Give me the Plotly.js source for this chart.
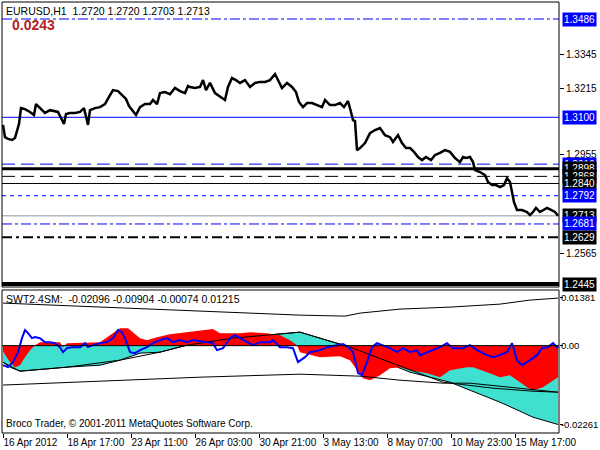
<!DOCTYPE html>
<html><head><meta charset="utf-8">
<script src="https://cdn.plot.ly/plotly-3.0.1.min.js"></script>
<style>html,body{margin:0;padding:0;background:#fff;}#chart{width:600px;height:450px;}</style>
</head><body><div id="chart"></div>
<script>
// ---- price panel data (EURUSD H1, bar index from 16 Apr 2012 00:00) ----
const priceBar = [0,2,5,9,12,14,16,18,22,27,31,33,35,39,42,47,52,55,58,61,63,67,72,77,81,83,85,87,92,97,102,106,110,115,119,123,126,130,133,137,142,147,150,154,157,162,167,172,177,182,185,187,192,197,200,203,207,212,217,222,225,229,233,237,242,247,252,257,262,267,272,275,279,284,289,293,296,300,304,309,315,319,322,327,332,337,341,345,348,350,352,354,357,362,367,372,377,382,387,390,395,399,403,407,411,415,419,423,428,432,437,442,447,452,457,460,463,467,470,472,477,482,485,489,493,497,501,504,507,509,511,514,519,524,527,530,533,537,540,544,548,552,555];
const priceClose = [1.3070,1.3022,1.3015,1.3011,1.3019,1.3042,1.3074,1.3136,1.3132,1.3121,1.3109,1.3152,1.3144,1.3132,1.3117,1.3128,1.3124,1.3121,1.3097,1.3074,1.3113,1.3117,1.3117,1.3121,1.3136,1.3097,1.3070,1.3128,1.3136,1.3140,1.3152,1.3180,1.3207,1.3203,1.3187,1.3172,1.3144,1.3121,1.3109,1.3140,1.3152,1.3152,1.3168,1.3152,1.3195,1.3199,1.3191,1.3215,1.3203,1.3195,1.3223,1.3219,1.3215,1.3219,1.3246,1.3207,1.3235,1.3195,1.3180,1.3168,1.3219,1.3254,1.3246,1.3235,1.3246,1.3219,1.3235,1.3239,1.3239,1.3246,1.3270,1.3246,1.3215,1.3235,1.3219,1.3199,1.3160,1.3140,1.3156,1.3156,1.3148,1.3140,1.3168,1.3148,1.3148,1.3156,1.3140,1.3164,1.3121,1.3089,1.3085,1.2971,1.2979,1.2999,1.3038,1.3050,1.3058,1.3030,1.3022,1.3003,1.3030,1.2999,1.2979,1.2979,1.2964,1.2944,1.2932,1.2944,1.2932,1.2952,1.2960,1.2971,1.2964,1.2940,1.2924,1.2944,1.2940,1.2944,1.2924,1.2893,1.2885,1.2873,1.2846,1.2834,1.2834,1.2826,1.2834,1.2861,1.2846,1.2803,1.2767,1.2736,1.2736,1.2728,1.2716,1.2728,1.2744,1.2728,1.2736,1.2744,1.2736,1.2728,1.2713];

const levelValues = [1.3486,1.3100,1.2916,1.2898,1.2868,1.2840,1.2792,1.2713,1.2681,1.2629,1.2445];
const levelLabels = ['1.3486','1.3100','1.2916','1.2898','1.2868','1.2840','1.2792','1.2713','1.2681','1.2629','1.2445'];
const priceTicks = [1.3345,1.3215,1.2955,1.2565];
const priceTickText = ['1.3345','1.3215','1.2955','1.2565'];

// ---- indicator panel data (SWT2.4SM) ----
const swtBar = [0,5,10,15,19,22,25,29,32,37,42,47,52,57,60,64,69,77,82,85,90,97,104,110,115,119,122,127,132,137,144,150,157,164,170,177,184,190,197,210,214,220,227,232,237,244,250,257,267,270,277,284,290,295,302,307,317,324,334,340,345,350,355,359,364,369,374,380,387,394,400,407,414,417,424,430,437,444,450,460,467,474,484,490,497,504,509,514,519,527,534,539,545,550,555];
const swtVal = [-0.00560,-0.00617,-0.00474,-0.00187,0.00215,0.00445,0.00359,0.00215,0.00244,0.00215,0.00100,0.00100,0.00072,-0.00043,-0.00187,-0.00072,-0.00043,-0.00043,0.00072,-0.00043,0.00014,0.00072,0.00100,0.00215,0.00445,0.00387,0.00215,-0.00187,-0.00215,-0.00129,-0.00043,0.00072,0.00158,0.00215,0.00100,0.00158,0.00100,0.00158,0.00129,0.00072,-0.00129,-0.00072,0.00215,0.00301,0.00215,0.00100,0.00014,0.00100,0.00100,0.00158,-0.00043,-0.00043,-0.00072,-0.00474,-0.00330,-0.00187,-0.00129,-0.00043,0.00014,0.00043,-0.00043,-0.00187,-0.00789,-0.00847,-0.00474,-0.00043,0.00072,0.00014,-0.00072,-0.00187,-0.00072,-0.00187,-0.00129,-0.00273,-0.00187,-0.00129,-0.00043,0.00072,-0.00072,-0.00072,0.00014,-0.00129,-0.00273,-0.00330,-0.00273,-0.00187,0.00072,-0.00416,-0.00560,-0.00416,-0.00273,-0.00072,-0.00043,0.00072,-0.00074];
const redBar = [0,7,12,17,22,27,32,37,57,60,64,97,107,117,125,137,144,154,167,184,197,210,217,237,247,264,277,287,294,297,317,337,347,357,360,367,377,387,397,407,424,437,447,464,470,484,497,507,514,524,530,540,555];
const redVal = [-0.00158,-0.00474,-0.00617,-0.00560,-0.00330,-0.00129,0.00014,0.00100,0.00100,-0.00043,0.00072,0.00100,0.00301,0.00502,0.00502,0.00215,0.00158,0.00244,0.00330,0.00387,0.00445,0.00474,0.00359,0.00359,0.00387,0.00359,0.00301,0.00158,0.00014,-0.00187,-0.00330,-0.00301,-0.00416,-0.00789,-0.00933,-0.00990,-0.00847,-0.00646,-0.00617,-0.00703,-0.00789,-0.00904,-0.00703,-0.00617,-0.00617,-0.00761,-0.00904,-0.00847,-0.00990,-0.01191,-0.01277,-0.01191,-0.00904];
const cyanBar = [0,7,17,37,64,97,117,137,157,184,230,264,297,317,340,357,377,407,427,447,472,497,517,530,555];
const cyanVal = [-0.00474,-0.00617,-0.00732,-0.00674,-0.00617,-0.00560,-0.00416,-0.00215,-0.00187,0.00014,0.00215,0.00301,0.00387,0.00215,0.00017,-0.00187,-0.00416,-0.00761,-0.00904,-0.01048,-0.01335,-0.01622,-0.01880,-0.02052,-0.02261];
const signalBar = [0,17,64,117,157,184,230,264,297,347,390,417,440,490,530,555];
const signalVal = [-0.00474,-0.00732,-0.00617,-0.00416,-0.00187,0.00014,0.00215,0.00301,0.00387,-0.00043,-0.00502,-0.00789,-0.01048,-0.01220,-0.01306,-0.01335];
const lowerBar = [0,97,197,297,357,397,440,467,507,530,555];
const lowerVal = [-0.01130,-0.01019,-0.00904,-0.00818,-0.00875,-0.00990,-0.01076,-0.01076,-0.01191,-0.01277,-0.01335];
const upperBar = [0,97,197,297,342,357,397,447,497,527,555];
const upperVal = [0.01220,0.01105,0.00990,0.00875,0.00847,0.00933,0.01048,0.01105,0.01191,0.01306,0.01363];
const swtTicks = [0.01381,0,-0.02261];
const swtTickText = ['0.01381','0.00','-0.02261'];

const timeTickBars = [0,64,128,192,256,320,384,448,512];
const timeTickText = ['16 Apr 2012','18 Apr 17:00','23 Apr 11:00','26 Apr 03:00','30 Apr 21:00','3 May 13:00','8 May 07:00','10 May 23:00','15 May 17:00'];

// ---- styles ----
const BLUE = '#0000ff', BLACK = '#000000';
const levelLineColor = [BLUE,BLUE,BLUE,BLACK,BLACK,BLACK,BLUE,'#8c96a0',BLUE,BLACK,BLACK];
const levelDash = ['10px,3px,3px,3px','solid','13px,6px','solid','13px,6px','solid','4px,4px','solid','10px,3px,3px,3px','10px,4px,3px,4px','solid'];
const levelWidth = [1,1,1,3,1,1,1,1,1,2,4];
const levelBox = [BLUE,BLUE,BLUE,BLACK,BLACK,BLACK,BLUE,BLACK,BLUE,BLACK,BLACK];

const FONT = 'Liberation Sans, Arial, sans-serif';
const priceTop = 1, priceBottom = 0.3387, indTop = 0.3318;

const traces = [
  {x: priceBar, y: priceClose, xaxis:'x2', yaxis:'y2', type:'scatter', mode:'lines',
   line:{color:BLACK, width:2.5}, hoverinfo:'skip'},
  {x: cyanBar, y: cyanVal, xaxis:'x', yaxis:'y', type:'scatter', mode:'lines', fill:'tozeroy',
   fillcolor:'#40e0d0', line:{color:BLACK, width:1}, hoverinfo:'skip'},
  {x: redBar, y: redVal, xaxis:'x', yaxis:'y', type:'scatter', mode:'lines', fill:'tozeroy',
   fillcolor:'#ff0000', line:{color:'#ff0000', width:0}, hoverinfo:'skip'},
  {x: signalBar, y: signalVal, xaxis:'x', yaxis:'y', type:'scatter', mode:'lines', line:{color:BLACK, width:1}, hoverinfo:'skip'},
  {x: lowerBar, y: lowerVal, xaxis:'x', yaxis:'y', type:'scatter', mode:'lines', line:{color:BLACK, width:1}, hoverinfo:'skip'},
  {x: upperBar, y: upperVal, xaxis:'x', yaxis:'y', type:'scatter', mode:'lines', line:{color:BLACK, width:1}, hoverinfo:'skip'},
  {x: swtBar, y: swtVal, xaxis:'x', yaxis:'y', type:'scatter', mode:'lines', line:{color:BLUE, width:2}, hoverinfo:'skip'}
];

const shapes = [];
levelValues.forEach((v,i) => {
  shapes.push({type:'line', xref:'paper', x0:0, x1:1, yref:'y2', y0:v, y1:v, layer:'below',
    line:{color:levelLineColor[i], width:levelWidth[i], dash:levelDash[i]}});
});
shapes.push({type:'line', xref:'paper', x0:0, x1:1, yref:'y', y0:0, y1:0, layer:'above', line:{color:BLACK, width:1}});
shapes.push({type:'rect', xref:'paper', yref:'paper', x0:0, x1:1, y0:priceBottom, y1:priceTop, line:{color:BLACK, width:1}, layer:'above'});
shapes.push({type:'rect', xref:'paper', yref:'paper', x0:0, x1:1, y0:0, y1:indTop, line:{color:BLACK, width:1}, layer:'above'});

const annotations = [];
levelValues.forEach((v,i) => {
  annotations.push({xref:'paper', x:1, xanchor:'left', xshift:3, yref:'y2', y:v, yanchor:'middle',
    text:levelLabels[i], showarrow:false, bgcolor:levelBox[i], borderpad:1,
    font:{family:FONT, size:10, color:'#ffffff'}});
});
annotations.push({xref:'paper', x:0, xanchor:'left', xshift:2, yref:'paper', y:1, yanchor:'top', yshift:-1,
  text:'EURUSD,H1  1.2720 1.2720 1.2703 1.2713', showarrow:false, font:{family:FONT, size:10.5, color:BLACK}});
annotations.push({xref:'paper', x:0, xanchor:'left', xshift:8, yref:'paper', y:1, yanchor:'top', yshift:-13,
  text:'<b>0.0243</b>', showarrow:false, font:{family:FONT, size:14, color:'#b22222'}});
annotations.push({xref:'paper', x:0, xanchor:'left', xshift:2, yref:'paper', y:indTop, yanchor:'top', yshift:-1,
  text:'SWT2.4SM:  -0.02096 -0.00904 -0.00074 0.01215', showarrow:false, font:{family:FONT, size:10.5, color:BLACK}});
annotations.push({xref:'paper', x:0, xanchor:'left', xshift:2, yref:'paper', y:0, yanchor:'bottom', yshift:2,
  text:'Broco Trader, © 2001-2011 MetaQuotes Software Corp.', showarrow:false, font:{family:FONT, size:10, color:BLACK}});

const layout = {
  width:600, height:450, margin:{l:2, r:41, t:2, b:17},
  paper_bgcolor:'#ffffff', plot_bgcolor:'#ffffff', showlegend:false,
  font:{family:FONT, size:10, color:BLACK},
  xaxis:{domain:[0,1], range:[-1,556], anchor:'y', tickmode:'array', tickvals:timeTickBars, ticktext:timeTickText,
    ticks:'outside', ticklen:4, tickcolor:BLACK, tickangle:0, ticklabelposition:'outside right', showgrid:false, zeroline:false,
    showline:false, tickfont:{family:FONT, size:10, color:BLACK}, fixedrange:true},
  xaxis2:{domain:[0,1], range:[-1,556], anchor:'y2', showticklabels:false, ticks:'', showgrid:false, zeroline:false, showline:false},
  yaxis:{domain:[0,indTop], range:[-0.02505,0.01596], anchor:'x', side:'right', tickmode:'array', tickvals:swtTicks, ticktext:swtTickText,
    ticks:'outside', ticklen:3, tickcolor:BLACK, ticklabelstandoff:-4, showgrid:false, zeroline:false, showline:false,
    tickfont:{family:FONT, size:9.5, color:BLACK}},
  yaxis2:{domain:[priceBottom,priceTop], range:[1.24334,1.35528], anchor:'x2', side:'right', tickmode:'array', tickvals:priceTicks, ticktext:priceTickText,
    ticks:'outside', ticklen:4, tickcolor:BLACK, showgrid:false, zeroline:false, showline:false, tickfont:{family:FONT, size:10, color:BLACK}},
  shapes:shapes, annotations:annotations
};

Plotly.newPlot('chart', traces, layout, {staticPlot:true, displayModeBar:false});
</script>
</body></html>
